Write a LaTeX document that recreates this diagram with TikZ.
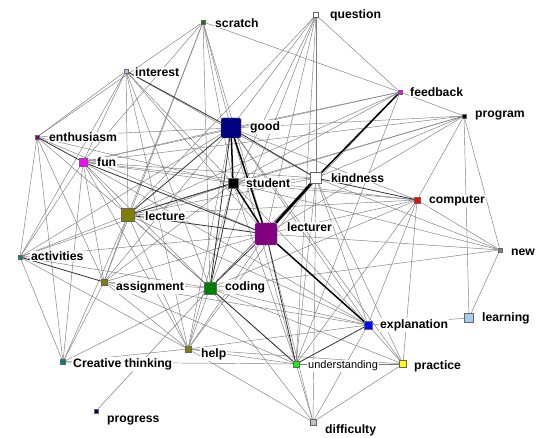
\documentclass[tikz,border=0pt]{standalone}
\usepackage{fontspec}
\setmainfont{Liberation Sans}
\pgfdeclarelayer{bg}
\pgfdeclarelayer{edges}
\pgfsetlayers{bg,edges,main}
\definecolor{cnavy}{RGB}{0,0,128}
\definecolor{cpurple}{RGB}{128,0,128}
\definecolor{cmagenta}{RGB}{255,0,255}
\definecolor{cgreen}{RGB}{0,128,0}
\definecolor{colive}{RGB}{128,128,0}
\definecolor{cteal}{RGB}{0,128,128}
\definecolor{clblue}{RGB}{166,202,240}
\definecolor{cblue}{RGB}{0,0,255}
\definecolor{clime}{RGB}{0,255,0}
\definecolor{cyellow}{RGB}{255,255,0}
\definecolor{cred}{RGB}{255,0,0}
\definecolor{cgray}{RGB}{128,128,128}
\definecolor{csilver}{RGB}{192,192,192}
\definecolor{edgegray}{RGB}{125,125,125}
\tikzset{
  mk/.style={rectangle, draw=black!60, line width=0.4pt, inner sep=0pt, minimum size=#1},
  lb/.style={font=\bfseries\fontsize{12.2}{13}\selectfont, fill=white, inner sep=1pt, anchor=west},
  lbs/.style={font=\fontsize{11}{12}\selectfont, fill=white, inner sep=1pt, anchor=west},
  thin edge/.style={draw=edgegray, line width=0.45pt},
  mid edge/.style={draw=black!80, line width=0.8pt},
  thick edge/.style={draw=black, line width=1.5pt},
  heavy edge/.style={draw=black, line width=2.6pt}
}
\begin{document}
\begin{tikzpicture}[x=1pt,y=-1pt]
\begin{pgfonlayer}{bg}
\fill[white] (0,0) rectangle (550,438);
\end{pgfonlayer}
\useasboundingbox (0,0) rectangle (550,438);
% markers
\node[mk=4.5pt, fill=cgreen]   (scratch)  at (203,22) {};
\node[mk=5pt,   fill=white]    (question) at (316,15) {};
\node[mk=4.5pt, fill=clblue]   (interest) at (126,71) {};
\node[mk=4.5pt, fill=cmagenta] (feedback) at (400,92) {};
\node[mk=3.5pt, fill=black]    (program)  at (464,116) {};
\node[mk=20pt,  fill=cnavy, rounded corners=1.5pt] (good) at (231,128) {};
\node[mk=4.5pt, fill=cpurple]  (enthusiasm) at (37,137) {};
\node[mk=8pt,   fill=cmagenta] (fun)      at (83,162) {};
\node[mk=10pt,  fill=black]    (student)  at (233,183) {};
\node[mk=11pt,  fill=white]    (kindness) at (316,178) {};
\node[mk=6pt,   fill=cred]     (computer) at (417,200) {};
\node[mk=13pt,  fill=colive]   (lecture)  at (128,215) {};
\node[mk=22pt,  fill=cpurple, rounded corners=1.5pt] (lecturer) at (266,234) {};
\node[mk=4.5pt, fill=cgray]    (new)      at (500,250) {};
\node[mk=4.5pt, fill=cteal]    (activities) at (20,257) {};
\node[mk=5.5pt, fill=colive]   (assignment) at (104,282) {};
\node[mk=12pt,  fill=cgreen]   (coding)   at (210,288) {};
\node[mk=9pt,   fill=clblue]   (learning) at (469,318) {};
\node[mk=7.5pt, fill=cblue]    (explanation) at (368,325) {};
\node[mk=5.5pt, fill=colive]   (help)     at (188,349) {};
\node[mk=5pt,   fill=cteal]    (creative) at (63,362) {};
\node[mk=6pt,   fill=clime]    (understanding) at (296,364) {};
\node[mk=7pt,   fill=cyellow]  (practice) at (403,364) {};
\node[mk=4.5pt, fill=cnavy]    (prg) at (96,411) {};
\node[mk=5.5pt, fill=csilver]  (difficulty) at (313,422) {};
% labels
\node[lb] (l-scratch)  at (214,23)  {scratch};
\node[lb] (l-question) at (329,15)  {question};
\node[lb] (l-interest) at (134,72)  {interest};
\node[lb] (l-feedback) at (409,92)  {feedback};
\node[lb] (l-program)  at (474,116) {program};
\node[lb] (l-good)     at (249,127) {good};
\node[lb] (l-enthusiasm) at (48,137) {enthusiasm};
\node[lb] (l-fun)      at (96,162)  {fun};
\node[lb] (l-student)  at (245,183) {student};
\node[lb] (l-kindness) at (330,178) {kindness};
\node[lb] (l-computer) at (428,201) {computer};
\node[lb] (l-lecture)  at (144,216) {lecture};
\node[lb] (l-lecturer) at (286,227) {lecturer};
\node[lb] (l-new)      at (510,252) {new};
\node[lb] (l-activities) at (30,256) {activities};
\node[lb] (l-assignment) at (115,287) {assignment};
\node[lb] (l-coding)   at (224,287) {coding};
\node[lb] (l-learning) at (481,318) {learning};
\node[lb] (l-explanation) at (379,325) {explanation};
\node[lb] (l-help)     at (200,354) {help};
\node[lb] (l-creative) at (72,364)  {Creative thinking};
\node[lbs] (l-understanding) at (307,366) {understanding};
\node[lb] (l-practice) at (413,366) {practice};
\node[lb] (l-progress) at (106,421) {progress};
\node[lb] (l-difficulty) at (324,430) {difficulty};
% edges
\begin{pgfonlayer}{edges}
\draw[draw=edgegray, line width=0.5pt] (prg) -- (coding);
\foreach \a/\b in {
 scratch/enthusiasm, scratch/fun, scratch/lecture, scratch/good, scratch/student,
 scratch/coding, scratch/lecturer, scratch/feedback, scratch/assignment,
 question/good, question/student, question/coding, question/kindness, question/feedback,
 question/lecturer, question/lecture, question/understanding,
 interest/lecture, interest/enthusiasm, interest/fun, interest/student, interest/lecturer,
 interest/coding, interest/activities, interest/kindness, interest/help,
 feedback/good, feedback/fun, feedback/student, feedback/lecture, feedback/lecturer,
 feedback/understanding, feedback/program, feedback/coding,
 program/good, program/student, program/fun, program/lecture, program/kindness,
 program/lecturer, program/computer, program/new, program/learning,
 good/enthusiasm, good/fun, good/activities, good/assignment, good/help, good/explanation,
 good/understanding, good/computer, good/practice,
 enthusiasm/lecture, enthusiasm/activities, enthusiasm/assignment, enthusiasm/lecturer,
 enthusiasm/creative, enthusiasm/student,
 fun/student, fun/kindness, fun/lecture, fun/assignment, fun/help, fun/creative,
 fun/activities, fun/coding, fun/computer, fun/explanation,
 student/kindness, student/assignment, student/help, student/understanding,
 student/explanation, student/computer, student/new, student/activities,
 kindness/lecture, kindness/coding, kindness/understanding, kindness/explanation,
 kindness/practice, kindness/new, kindness/help, kindness/difficulty,
 computer/lecture, computer/lecturer, computer/coding, computer/practice,
 computer/understanding, computer/new, computer/explanation,
 lecture/assignment, lecture/coding, lecture/help, lecture/creative, lecture/activities,
 lecture/understanding, lecture/explanation,
 lecturer/assignment, lecturer/help, lecturer/new, lecturer/difficulty, lecturer/activities,
 new/coding, new/learning,
 activities/creative, activities/help, activities/coding,
 assignment/coding, assignment/help, assignment/creative, assignment/understanding,
 assignment/explanation,
 coding/help, coding/creative, coding/explanation, coding/difficulty, coding/practice,
 learning/explanation,
 explanation/practice, explanation/help, explanation/difficulty,
 help/understanding, help/creative, help/difficulty, help/practice,
 understanding/difficulty, understanding/practice, practice/difficulty,
 creative/understanding}
 \draw[thin edge] (\a) -- (\b);
\foreach \a/\b in {
 enthusiasm/fun, activities/assignment, interest/good, lecture/good, fun/lecturer,
 lecture/lecturer, explanation/understanding, lecturer/understanding, coding/lecturer,
 kindness/computer, lecture/student, coding/understanding, good/kindness,
 good/coding, student/coding}
 \draw[mid edge] (\a) -- (\b);
\foreach \a/\b in {
 good/student, good/lecturer, student/lecturer, lecturer/explanation,
 kindness/feedback}
 \draw[thick edge] (\a) -- (\b);
\draw[heavy edge] (kindness) -- (lecturer);
\end{pgfonlayer}
\end{tikzpicture}
\end{document}
